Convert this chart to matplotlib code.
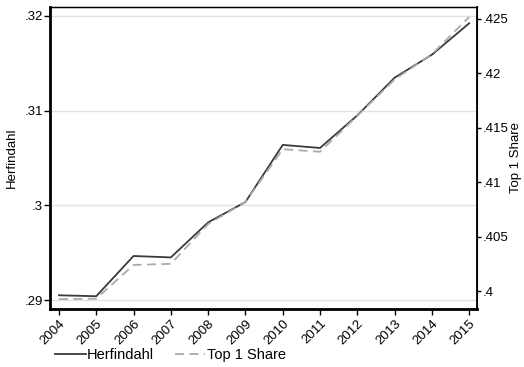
import matplotlib.pyplot as plt
from matplotlib.ticker import FuncFormatter

plt.rcParams['font.family'] = ['Liberation Sans', 'DejaVu Sans']

years = [2004, 2005, 2006, 2007, 2008, 2009, 2010, 2011, 2012, 2013, 2014, 2015]
herfindahl = [0.2905, 0.2904, 0.29465, 0.2945, 0.2982, 0.30035, 0.30638, 0.30606,
              0.3095, 0.31348, 0.31591, 0.31923]
top1_share = [0.39926, 0.3993, 0.4024, 0.4025, 0.40616, 0.40818, 0.41303, 0.4128,
              0.4161, 0.41944, 0.42176, 0.42519]

left_ticks = [0.29, 0.30, 0.31, 0.32]
right_ticks = [0.400, 0.405, 0.410, 0.415, 0.420, 0.425]


def stata_fmt(v, pos):
    s = ('%.3f' % v).rstrip('0').rstrip('.')
    return s[1:] if s.startswith('0') else s


fig = plt.figure(figsize=(5.24, 3.67), dpi=100)
ax = fig.add_axes([0.0954, 0.158, 0.815, 0.823])
ax2 = ax.twinx()

l1, = ax.plot(years, herfindahl, color='#3a3a3a', lw=1.3, label='Herfindahl')
l2, = ax2.plot(years, top1_share, color='#aaaaaa', lw=1.3, ls=(0, (5, 3)),
               label='Top 1 Share')

ax.set_xlim(2003.76, 2015.21)
ax.set_ylim(0.28905, 0.32095)
ax2.set_ylim(0.39835, 0.4261)

ax.set_yticks(left_ticks)
ax2.set_yticks(right_ticks)
ax.yaxis.set_major_formatter(FuncFormatter(stata_fmt))
ax2.yaxis.set_major_formatter(FuncFormatter(stata_fmt))
ax.set_xticks(years)
ax.set_xticklabels([str(y) for y in years], rotation=45, ha='right',
                   rotation_mode='anchor', fontsize=9.5)
ax.tick_params(axis='y', labelsize=9.5, length=4, width=1, pad=1)
ax.tick_params(axis='x', length=4, width=1, pad=2)
ax2.tick_params(axis='y', labelsize=9.5, length=3, width=1, pad=1)

ax.grid(axis='y', color='#e3e3e3', lw=1)
ax.set_axisbelow(True)

for sp in ['left', 'bottom']:
    ax.spines[sp].set_linewidth(2)
ax2.spines['right'].set_linewidth(1.3)
ax2.spines['top'].set_linewidth(1)

ax.set_ylabel('Herfindahl', fontsize=9.5, labelpad=5)
ax2.set_ylabel('Top 1 Share', fontsize=9.5, rotation=90, labelpad=1)

fig.legend(handles=[l1, l2], loc='center', bbox_to_anchor=(0.325, 0.033), ncol=2,
           frameon=False, fontsize=10.5, handlelength=2.1, columnspacing=1.4,
           handletextpad=0.1)

fig.savefig('out.png', dpi=100)
